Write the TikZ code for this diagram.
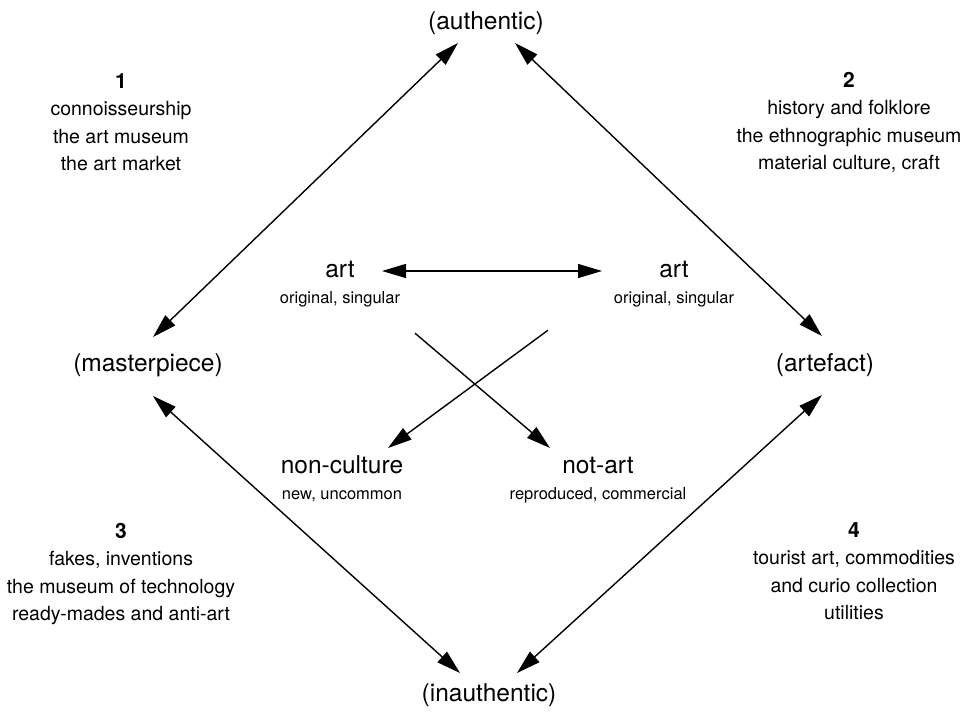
\documentclass[tikz,border=0pt]{standalone}
\usepackage{fontspec}
\setmainfont{TeX Gyre Heros}
\usetikzlibrary{
    arrows.meta,
    positioning,
    calc
}

\begin{document}
\begin{tikzpicture}[
    x=1pt, y=-1pt,
    pole/.style={
        inner sep=0pt, anchor=base,
        font=\fontsize{24.5}{29}\selectfont
    },
    subtxt/.style={
        inner sep=0pt, text height=12pt, text depth=3pt,
        font=\fontsize{16.5}{20}\selectfont
    },
    qnum/.style={
        inner sep=0pt, anchor=base,
        font=\bfseries\fontsize{21}{25}\selectfont
    },
    qtxt/.style={
        inner sep=0pt, align=center,
        font=\fontsize{19.5}{27.5}\selectfont
    },
    dbl/.style={{Triangle[length=24pt,width=14pt]}-{Triangle[length=24pt,width=14pt]}, line width=1.4pt},
    arr/.style={-{Triangle[length=24pt,width=14pt]}, line width=1.4pt},
]

\useasboundingbox (0,0) rectangle (963,712);

% ── Poles of the square ──
\node[pole] (auth)   at (486,29)  {(authentic)};
\node[pole] (mast)   at (148,371) {(masterpiece)};
\node[pole] (arte)   at (825,371) {(artefact)};
\node[pole] (inauth) at (489,701) {(inauthentic)};

% ── Inner terms ──
\node[pole] (artL)   at (340,277) {art};
\node[subtxt, below=14pt of artL.base] (artLsub) {original, singular};

\node[pole] (artR)   at (674,277) {art};
\node[subtxt, below=14pt of artR.base] (artRsub) {original, singular};

\node[pole] (nonc)   at (342,473) {non-culture};
\node[subtxt, below=14pt of nonc.base] (noncsub) {new, uncommon};

\node[pole] (notart) at (598,473) {not-art};
\node[subtxt, below=14pt of notart.base] (notartsub) {reproduced, commercial};

% ── Quadrant notes ──
\node[qnum] (q1) at (121,88) {1};
\node[qtxt, below=13pt of q1] (q1txt) {connoisseurship\\the art museum\\the art market};

\node[qnum] (q2) at (849,87) {2};
\node[qtxt, below=13pt of q2] (q2txt) {history and folklore\\the ethnographic museum\\material culture, craft};

\node[qnum] (q3) at (121,538) {3};
\node[qtxt, below=13pt of q3] (q3txt) {fakes, inventions\\the museum of technology\\ready-mades and anti-art};

\node[qnum] (q4) at (854,537) {4};
\node[qtxt, below=13pt of q4] (q4txt) {tourist art, commodities\\and curio collection\\utilities};

% ── Outer arrows ──
\draw[dbl] ($(auth.base)+(-28,14)$) -- ($(mast.base)+(5,-34)$);
\draw[dbl] ($(auth.base)+(29,14)$) -- ($(arte.base)+(-3,-35)$);
\draw[dbl] ($(mast.base)+(5,25)$) -- ($(inauth.base)+(-29,-28)$);
\draw[dbl] ($(arte.base)+(-3,24)$) -- ($(inauth.base)+(28,-28)$);

% ── Inner arrows ──
\draw[dbl] ($(artL.base)+(42,-6)$) -- ($(artR.base)+(-72,-6)$);
\draw[arr] ($(artLsub.base)+(75,30)$) -- ($(notart.base)+(-48,-25)$);
\draw[arr] ($(artRsub.base)+(-126,27)$) -- ($(nonc.base)+(46,-25)$);

\end{tikzpicture}
\end{document}
